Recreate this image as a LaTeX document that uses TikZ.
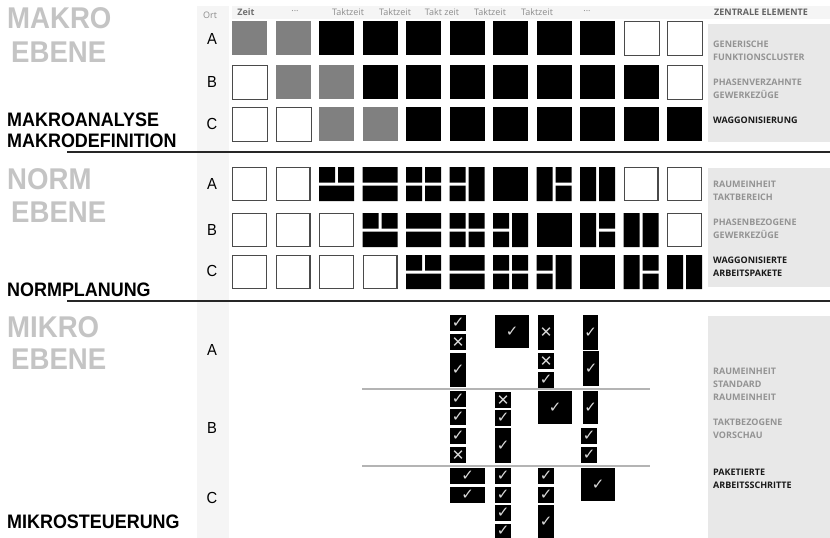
\documentclass[tikz,border=0pt]{standalone}
\usepackage{fontspec}
\setmainfont{Liberation Sans}
\newfontfamily\schmal[FakeStretch=0.92]{Liberation Sans}
\newfontfamily\offen{Open Sans}
\newfontfamily\zeichen{DejaVu Sans}

\definecolor{ebenengrau}{HTML}{C4C4C4}
\definecolor{kopfgrau}{HTML}{8C8C8C}
\definecolor{spaltengrau}{HTML}{F5F5F5}
\definecolor{kastengrau}{HTML}{E8E8E8}
\definecolor{feldgrau}{HTML}{808080}
\definecolor{randgrau}{HTML}{4A4A4A}
\definecolor{textgrau}{HTML}{939393}
\definecolor{liniengrau}{HTML}{B4B4B4}
\definecolor{hakengrau}{HTML}{DADADA}

\newcommand{\ja}{✓}
\newcommand{\nein}{✕}

\tikzset{
  ebene/.style={anchor=base west, inner sep=0pt, text=ebenengrau, font=\schmal\bfseries\fontsize{30}{34}\selectfont},
  phase/.style={anchor=base west, inner sep=0pt, font=\schmal\bfseries\fontsize{19.5}{21}\selectfont},
  ort/.style={inner sep=0pt, font=\schmal\fontsize{16}{16}\selectfont},
  kopf/.style={inner sep=0pt, text=kopfgrau, font=\offen\fontsize{9}{9}\selectfont},
  element/.style={anchor=west, align=left, inner sep=0pt, text=textgrau, font=\offen\bfseries\fontsize{9}{13}\selectfont},
  zelle/.style={anchor=north west, inner sep=0pt, minimum width=35pt, minimum height=34pt},
  zelleg/.style={zelle, fill=feldgrau},
  zelles/.style={zelle, fill=black},
  zellew/.style={zelle, draw=randgrau, line width=1.2pt, fill=white},
  mikro/.style={anchor=north west, inner sep=0pt, fill=black, text=hakengrau, font=\zeichen\fontsize{15}{15}\selectfont},
  pics/normw/.style={code={\draw[randgrau, line width=1.2pt, fill=white] (0.6,0.6) rectangle (34.4,33.4);}},
  pics/norma/.style={code={\fill (0,0) rectangle (16,15.5) (19,0) rectangle (35,15.5) (0,18.5) rectangle (35,34);}},
  pics/normb/.style={code={\fill (0,0) rectangle (35,15.5) (0,18.5) rectangle (35,34);}},
  pics/normc/.style={code={\fill (0,0) rectangle (16,15.5) (19,0) rectangle (35,15.5) (0,18.5) rectangle (16,34) (19,18.5) rectangle (35,34);}},
  pics/normd/.style={code={\fill (0,0) rectangle (16,15.5) (0,18.5) rectangle (16,34) (19,0) rectangle (35,34);}},
  pics/norme/.style={code={\fill (0,0) rectangle (35,34);}},
  pics/normf/.style={code={\fill (0,0) rectangle (16,34) (19,0) rectangle (35,15.5) (19,18.5) rectangle (35,34);}},
  pics/normg/.style={code={\fill (0,0) rectangle (16,34) (19,0) rectangle (35,34);}},
}

\begin{document}
\begin{tikzpicture}[x=1pt, y=-1pt]
  \useasboundingbox[fill=white] (0,0) rectangle (830,538);

  % Ort-Spalte, Kopfzeile, Kaesten rechts
  \fill[spaltengrau] (197,6) rectangle (229,538);
  \fill[spaltengrau] (232,6) rectangle (830,19);
  \fill[kastengrau] (708,24) rectangle (830,142);
  \fill[kastengrau] (708,168) rectangle (830,287);
  \fill[kastengrau] (708,316) rectangle (830,538);

  \node[kopf] (ort) at (210,15) {Ort};
  \node[kopf, text=kopfgrau!80!black, font=\offen\bfseries\fontsize{9}{9}\selectfont] (zeit) at (246,12) {Zeit};
  \node[kopf] (k1) at (295,11) {...};
  \node[kopf] (k2) at (348,12) {Taktzeit};
  \node[kopf] (k3) at (395,12) {Taktzeit};
  \node[kopf] (k4) at (442,12) {Takt zeit};
  \node[kopf] (k5) at (490,12) {Taktzeit};
  \node[kopf] (k6) at (537,12) {Taktzeit};
  \node[kopf] (k7) at (587,11) {...};
  \node[kopf, anchor=west, text=kopfgrau!70!black, font=\offen\bfseries\fontsize{9}{9}\selectfont] (zentral) at (714,12) {ZENTRALE ELEMENTE};

  % Ebenen links
  \node[ebene] (makro1) at (7,28) {MAKRO};
  \node[ebene] (makro2) at (11,62) {EBENE};
  \node[phase] (analyse) at (7,126) {MAKROANALYSE};
  \node[phase] (definition) at (7,147) {MAKRODEFINITION};
  \node[ebene] (norm1) at (7,189) {NORM};
  \node[ebene] (norm2) at (11,222) {EBENE};
  \node[phase] (planung) at (7,296) {NORMPLANUNG};
  \node[ebene] (mikro1) at (7,337) {MIKRO};
  \node[ebene] (mikro2) at (11,369) {EBENE};
  \node[phase] (steuerung) at (7,528) {MIKROSTEUERUNG};

  \draw[line width=1.4pt, black!85] (67,152) -- (830,152);
  \draw[line width=1.4pt, black!85] (67,301) -- (830,301);

  % Orte
  \node[ort] (makroA) at (212,39) {A};
  \node[ort] (makroB) at (212,82) {B};
  \node[ort] (makroC) at (212,124) {C};
  \node[ort] (normA) at (212,184) {A};
  \node[ort] (normB) at (212,230) {B};
  \node[ort] (normC) at (212,271) {C};
  \node[ort] (mikroA) at (212,350) {A};
  \node[ort] (mikroB) at (212,428) {B};
  \node[ort] (mikroC) at (212,498) {C};

  % Makroebene
  \foreach \f [count=\c] in {g,g,s,s,s,s,s,s,s,w,w}
    \node[zelle\f] (mA\c) at ({232+43.5*(\c-1)},21) {};
  \foreach \f [count=\c] in {w,g,g,s,s,s,s,s,s,s,w}
    \node[zelle\f] (mB\c) at ({232+43.5*(\c-1)},65) {};
  \foreach \f [count=\c] in {w,w,g,g,s,s,s,s,s,s,s}
    \node[zelle\f] (mC\c) at ({232+43.5*(\c-1)},107) {};

  % Normebene
  \foreach \p [count=\c] in {w,w,a,b,c,d,e,f,g,w,w}
    \pic at ({232+43.5*(\c-1)},167) {norm\p};
  \foreach \p [count=\c] in {w,w,w,a,b,c,d,e,f,g,w}
    \pic at ({232+43.5*(\c-1)},213) {norm\p};
  \foreach \p [count=\c] in {w,w,w,w,a,b,c,d,e,f,g}
    \pic at ({232+43.5*(\c-1)},255) {norm\p};

  % Mikroebene
  \draw[liniengrau, line width=1.5pt] (362,389) -- (650,389);
  \draw[liniengrau, line width=1.5pt] (362,466) -- (650,466);
  \foreach \x/\y/\w/\h/\s [count=\i] in {
      450/315/16/16/\ja, 450/334/16/16/\nein, 450/353/16/34/\ja, 450/391/16/16/\ja,
      450/409/16/16/\ja, 450/428/16/16/\ja, 450/447/16/16/\nein, 450/468/35/16/\ja,
      450/487/35/16/\ja,
      495/315/34/33/\ja, 495/392/16/16/\nein, 495/410/16/16/\ja, 495/428/16/35/\ja,
      495/468/16/16/\ja, 495/487/16/16/\ja, 495/505/16/16/\ja, 495/524/16/14/\ja,
      538/315/16/35/\nein, 538/353/16/16/\nein, 538/372/16/16/\ja, 538/391/34/33/\ja,
      538/468/16/16/\ja, 538/487/16/16/\ja, 538/505/16/33/\ja,
      583/315/15/35/\ja, 583/351/16/35/\ja, 583/391/15/33/\ja, 581/428/16/16/\ja,
      581/447/16/16/\ja, 581/468/34/33/\ja}
    \node[mikro, minimum width=\w pt, minimum height=\h pt] (h\i) at (\x,\y) {\s};

  % zentrale Elemente
  \node[element] (e1) at (713,50.5) {GENERISCHE\\FUNKTIONSCLUSTER};
  \node[element] (e2) at (713,88.5) {PHASENVERZAHNTE\\GEWERKEZÜGE};
  \node[element, text=black!90] (e3) at (713,120) {WAGGONISIERUNG};
  \node[element] (e4) at (713,190.5) {RAUMEINHEIT\\TAKTBEREICH};
  \node[element] (e5) at (713,228.5) {PHASENBEZOGENE\\GEWERKEZÜGE};
  \node[element, text=black!90] (e6) at (713,267) {WAGGONISIERTE\\ARBEITSPAKETE};
  \node[element] (e7) at (713,384) {RAUMEINHEIT\\STANDARD\\RAUMEINHEIT};
  \node[element] (e8) at (713,429) {TAKTBEZOGENE\\VORSCHAU};
  \node[element, text=black!90] (e9) at (713,479) {PAKETIERTE\\ARBEITSSCHRITTE};
\end{tikzpicture}
\end{document}
